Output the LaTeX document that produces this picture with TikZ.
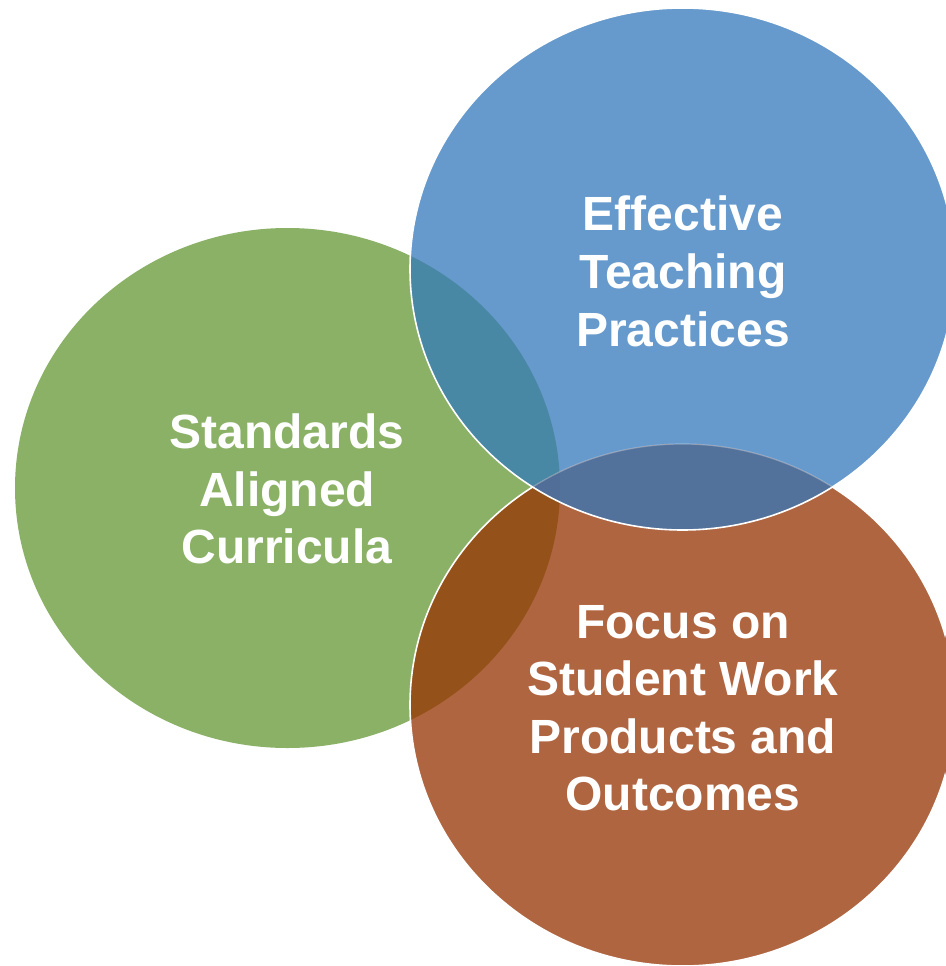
\documentclass[tikz,border=0pt]{standalone}
\usepackage{fontspec}
\setmainfont{Liberation Sans}
\begin{document}
\definecolor{cgreen}{RGB}{139,177,102}
\definecolor{cblue}{RGB}{102,153,204}
\definecolor{corange}{RGB}{176,101,65}
\definecolor{cgb}{RGB}{72,136,164}
\definecolor{cbo}{RGB}{82,113,155}
\definecolor{cgo}{RGB}{148,82,26}
\definecolor{cgbo}{RGB}{80,110,151}
\begin{tikzpicture}[x=1pt,y=-1pt,
  lbl/.style={text=white,font=\fontsize{48}{57}\selectfont\bfseries,anchor=base,inner sep=0pt},
  rim/.style={draw=white,line width=1.6pt}]
\useasboundingbox (0,0) rectangle (945,966);
\def\greenpath{(287.5,488) ellipse [x radius=272.5pt, y radius=260pt]}
\def\bluepath{(682.5,269) ellipse [x radius=272.5pt, y radius=261pt]}
\def\orangepath{(682.5,705) ellipse [x radius=272.5pt, y radius=261pt]}
% base discs
\fill[cgreen] \greenpath;
\fill[cblue] \bluepath;
\fill[corange] \orangepath;
% pairwise overlaps
\begin{scope}
  \clip \greenpath;
  \fill[cgb] \bluepath;
  \fill[cgo] \orangepath;
\end{scope}
\begin{scope}
  \clip \bluepath;
  \fill[cbo] \orangepath;
  \clip \orangepath;
  \fill[cgbo] \greenpath;
\end{scope}
% rims
\begin{scope}
  \clip \bluepath;
  \draw[draw=white,line width=1.2pt,opacity=0.3] \orangepath;
\end{scope}
\begin{scope}[even odd rule]
  \clip (0,0) rectangle (945,966) \bluepath;
  \draw[rim] \orangepath;
\end{scope}
\draw[rim] \bluepath;
% labels
\node[lbl] (g1) at (287,448) {Standards};
\node[lbl] (g2) at (287,506) {Aligned};
\node[lbl] (g3) at (287,563) {Curricula};
\node[lbl] (b1) at (683,230) {Effective};
\node[lbl] (b2) at (683,288) {Teaching};
\node[lbl] (b3) at (683,346) {Practices};
\node[lbl] (o1) at (683,638) {Focus on};
\node[lbl] (o2) at (683,695) {Student Work};
\node[lbl] (o3) at (683,753) {Products and};
\node[lbl] (o4) at (683,810) {Outcomes};
\end{tikzpicture}
\end{document}
